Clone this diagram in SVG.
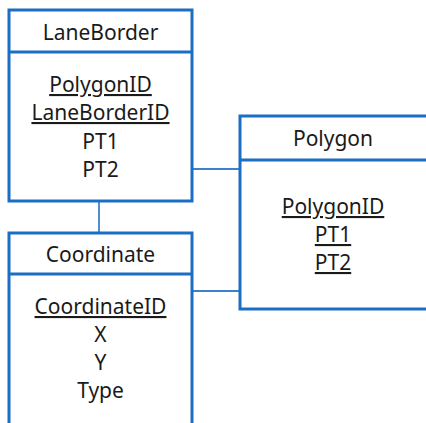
<svg xmlns="http://www.w3.org/2000/svg" width="426" height="423" viewBox="0 0 426 423">
<style>
.box{fill:#fff;stroke:#1a6fc4;stroke-width:3}
.div{stroke:#1a6fc4;stroke-width:3}
.con{stroke:#3b82cc;stroke-width:1.8;fill:none}
text{font-family:"Noto Sans","Open Sans",sans-serif;font-size:21px;fill:#1a1a1a;text-anchor:middle}
.u{text-decoration:underline}
</style>
<rect width="426" height="423" fill="#fff"/>
<g id="connectors">
<line class="con" x1="99" y1="201" x2="99" y2="232"/>
<line class="con" x1="193" y1="169" x2="240" y2="169"/>
<line class="con" x1="192" y1="291" x2="240" y2="291"/>
</g>
<g id="LaneBorder">
<rect class="box" x="9" y="10" width="183" height="191"/>
<line class="div" x1="9" y1="52" x2="192" y2="52"/>
<text x="100.5" y="40">LaneBorder</text>
<text class="u" x="100.5" y="92">PolygonID</text>
<text class="u" x="100.5" y="120">LaneBorderID</text>
<text x="100.5" y="149">PT1</text>
<text x="100.5" y="177">PT2</text>
</g>
<g id="Polygon">
<rect class="box" x="240" y="116" width="200" height="193"/>
<line class="div" x1="240" y1="160" x2="440" y2="160"/>
<text x="333" y="146">Polygon</text>
<text class="u" x="333" y="214">PolygonID</text>
<text class="u" x="333" y="242">PT1</text>
<text class="u" x="333" y="270">PT2</text>
</g>
<g id="Coordinate">
<rect class="box" x="9" y="233" width="183" height="195"/>
<line class="div" x1="9" y1="274" x2="192" y2="274"/>
<text x="100.5" y="262">Coordinate</text>
<text class="u" x="100.5" y="314">CoordinateID</text>
<text x="100.5" y="342">X</text>
<text x="100.5" y="370">Y</text>
<text x="100.5" y="398">Type</text>
</g>
</svg>
